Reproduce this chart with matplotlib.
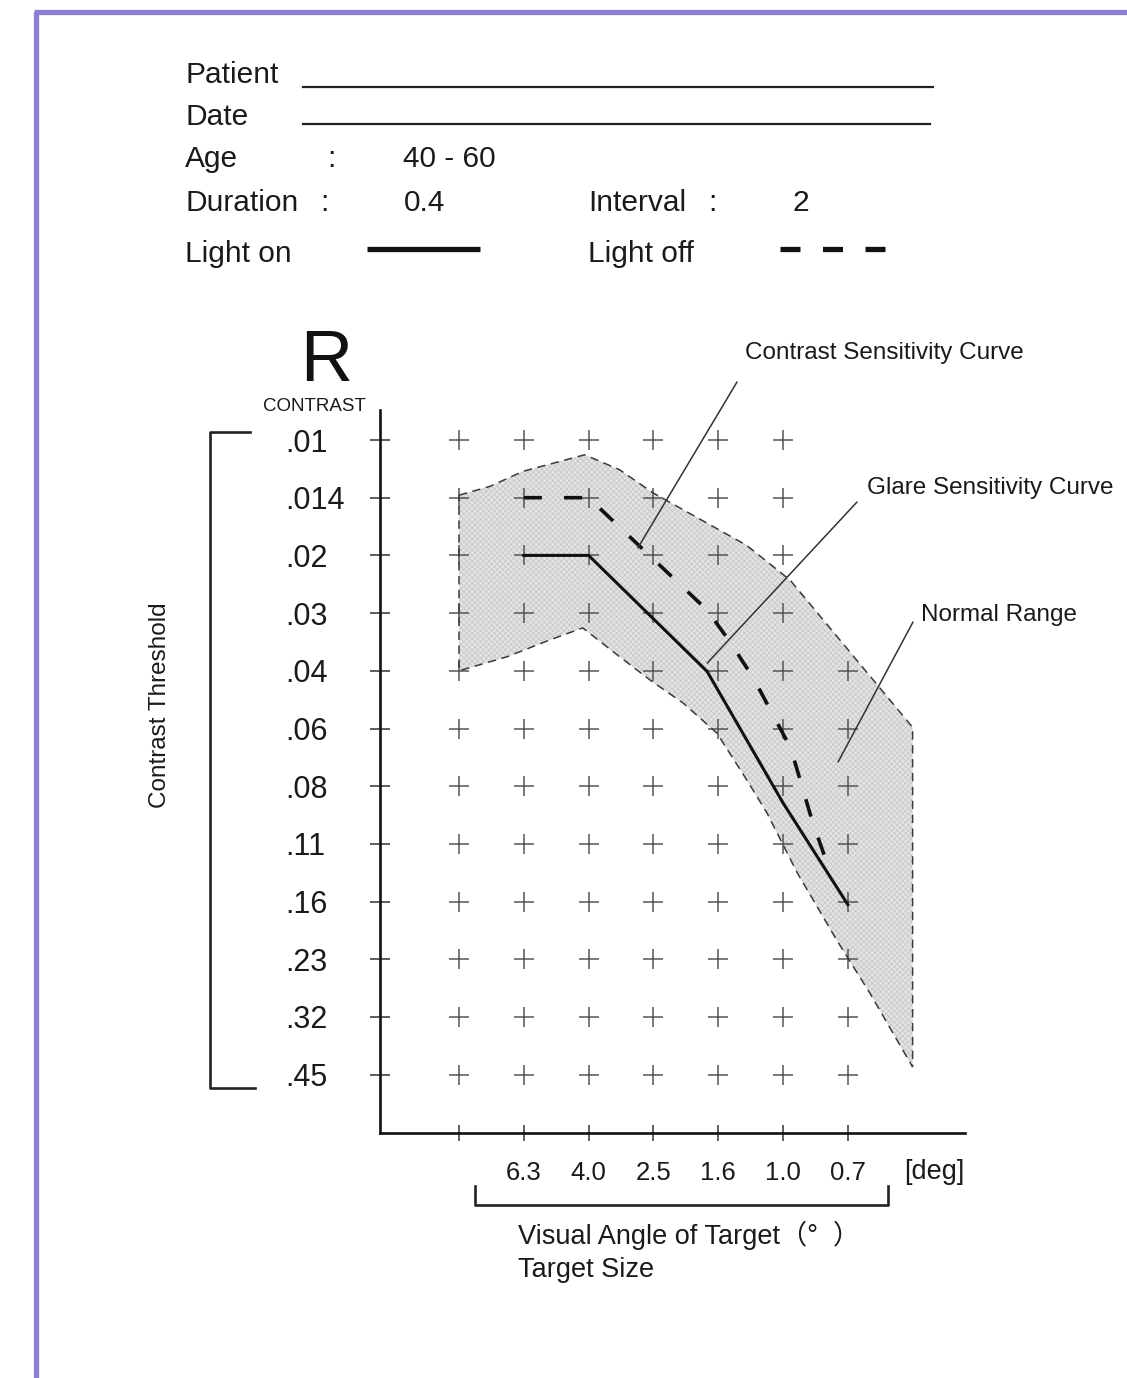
import numpy as np
import matplotlib
matplotlib.use('Agg')
import matplotlib.pyplot as plt
from matplotlib.patches import ConnectionPatch
from matplotlib.ticker import NullLocator, FixedLocator, FixedFormatter

plt.rcParams['font.family'] = ['Liberation Sans', 'Noto Sans CJK JP', 'DejaVu Sans']
plt.rcParams['lines.scale_dashes'] = False
plt.rcParams['hatch.linewidth'] = 0.5

W, H, DPI = 1127, 1378, 100

# ---------------- data ----------------
contrast_levels = [0.01, 0.014, 0.02, 0.03, 0.04, 0.06, 0.08, 0.11, 0.16, 0.23, 0.32, 0.45]
contrast_labels = ['.01', '.014', '.02', '.03', '.04', '.06', '.08', '.11', '.16', '.23', '.32', '.45']
size_positions = [0, 1, 2, 3, 4, 5, 6]
size_labels = ['', '6.3', '4.0', '2.5', '1.6', '1.0', '0.7']
grid_cols_per_row = [6, 6, 6, 6, 7, 7, 7, 7, 7, 7, 7, 7]

light_on_x = [1, 2, 3.83, 5.0, 6.0]
light_on_c = [0.02, 0.02, 0.0402, 0.0877, 0.163]
light_off_x = [1, 2, 3.83, 4.18, 4.54, 5.12, 5.46, 5.68]
light_off_c = [0.014, 0.014, 0.0294, 0.0346, 0.042, 0.0662, 0.098, 0.1245]

normal_upper_x = [0, 0.48, 0.99, 1.94, 2.48, 2.99, 4.44, 5.11, 7.0]
normal_upper_c = [0.0138, 0.0131, 0.012, 0.0109, 0.0119, 0.0136, 0.0188, 0.0238, 0.0595]
normal_lower_x = [0, 0.74, 1.40, 1.91, 2.48, 2.95, 3.46, 3.98, 4.44, 4.75, 5.22, 5.83, 6.34, 7.0]
normal_lower_c = [0.04, 0.0373, 0.0343, 0.0323, 0.0373, 0.0427, 0.0502, 0.0614, 0.0775,
                  0.0926, 0.1327, 0.204, 0.279, 0.43]

# label pointers (x position, contrast)
ptr_contrast_curve = (2.76, 0.0191)
ptr_glare_curve = (3.83, 0.0385)
ptr_normal_range = (5.85, 0.0709)

# ---------------- scale: equal spacing between contrast levels ----------------
idx = np.arange(len(contrast_levels), dtype=float)
logL = np.log10(contrast_levels)
idx_ext = np.concatenate([[-3.0], idx, [idx[-1] + 3]])
logL_ext = np.concatenate([[logL[0] - 3 * (logL[1] - logL[0])], logL,
                           [logL[-1] + 3 * (logL[-1] - logL[-2])]])


def fwd(c):
    c = np.clip(np.asarray(c, float), 1e-9, None)
    return np.interp(np.log10(c), logL_ext, idx_ext)


def inv(r):
    return 10 ** np.interp(np.asarray(r, float), idx_ext, logL_ext)


fig = plt.figure(figsize=(W / DPI, H / DPI), dpi=DPI)
fig.patch.set_facecolor('white')


def fx(px):
    return px / W


def fy(py):
    return 1 - py / H


ax = fig.add_axes([fx(380), fy(1133), fx(965) - fx(380), fy(410) - fy(1133)])
ax.set_yscale('function', functions=(fwd, inv))
col0, cstep = 459, 64.8
row0, rstep = 440, 57.7
ax.set_xlim((380 - col0) / cstep, (965 - col0) / cstep)
ax.set_ylim(inv((1133 - row0) / rstep), inv((410 - row0) / rstep))
ax.patch.set_alpha(0)
for s in ['top', 'right']:
    ax.spines[s].set_visible(False)
for s in ['left', 'bottom']:
    ax.spines[s].set_linewidth(1.9)
    ax.spines[s].set_color('#111111')

ax.yaxis.set_major_locator(FixedLocator(contrast_levels))
ax.yaxis.set_major_formatter(FixedFormatter(contrast_labels))
ax.yaxis.set_minor_locator(NullLocator())
ax.xaxis.set_major_locator(FixedLocator(size_positions))
ax.xaxis.set_major_formatter(FixedFormatter(size_labels))
ax.xaxis.set_minor_locator(NullLocator())
ax.tick_params(axis='y', direction='inout', length=14, width=1.1, color='#333333',
               pad=61.4, labelsize=22, labelcolor='#1a1a1a')
for lab in ax.get_yticklabels():
    lab.set_horizontalalignment('left')
ax.tick_params(axis='x', direction='inout', length=11, width=1.1, color='#333333',
               pad=15, labelsize=18.5, labelcolor='#1a1a1a')

# normal range
poly_x = normal_upper_x + normal_lower_x[::-1]
poly_c = normal_upper_c + normal_lower_c[::-1]
ax.fill(poly_x, poly_c, facecolor='#e3e3e3', edgecolor='#c6c6c6', hatch='xxxxxx',
        lw=0, zorder=1)
ax.fill(poly_x, poly_c, facecolor='none', edgecolor='#3a3a3a', lw=1.1,
        ls=(0, (6, 4)), zorder=3)

# grid of crosses
for lev, n in zip(contrast_levels, grid_cols_per_row):
    ax.plot(size_positions[:n], [lev] * n, ls='none', marker='+', ms=15, mew=1.1,
            color='#555555', zorder=2)

# curves
ax.plot(light_on_x, light_on_c, color='#111111', lw=2.2, zorder=4,
        solid_joinstyle='miter')
ax.plot(light_off_x, light_off_c, color='#111111', lw=2.6, ls=(0, (13, 16)),
        zorder=4, dash_capstyle='butt')

# ---------------- overlay (pixel coordinates) ----------------
ov = fig.add_axes([0, 0, 1, 1], zorder=5)
ov.set_xlim(0, W)
ov.set_ylim(H, 0)
ov.axis('off')
ov.patch.set_alpha(0)

TC = '#1a1a1a'
# purple border
ov.plot([36, 36], [12, H + 5], color='#8c7ed2', lw=3.8, solid_capstyle='butt')
ov.plot([34, W + 5], [12, 12], color='#8c7ed2', lw=3.8, solid_capstyle='butt')

HF = 21.5
ov.text(185, 83, 'Patient', fontsize=HF, color=TC, va='baseline')
ov.plot([303, 933], [87, 87], color='#222222', lw=1.6)
ov.text(185, 125, 'Date', fontsize=HF, color=TC, va='baseline')
ov.plot([303, 930], [124, 124], color='#222222', lw=1.6)
ov.text(185, 167, 'Age', fontsize=HF, color=TC, va='baseline')
ov.text(327, 167, ':', fontsize=HF, color=TC, va='baseline')
ov.text(403, 167, '40 - 60', fontsize=HF, color=TC, va='baseline')
ov.text(185, 211, 'Duration', fontsize=HF, color=TC, va='baseline')
ov.text(320, 211, ':', fontsize=HF, color=TC, va='baseline')
ov.text(404, 211, '0.4', fontsize=HF, color=TC, va='baseline')
ov.text(588, 211, 'Interval', fontsize=HF, color=TC, va='baseline')
ov.text(708, 211, ':', fontsize=HF, color=TC, va='baseline')
ov.text(792, 211, '2', fontsize=HF, color=TC, va='baseline')
ov.text(185, 262, 'Light on', fontsize=HF, color=TC, va='baseline')
ov.plot([367, 480], [249, 249], color='#111111', lw=3.8, solid_capstyle='butt')
ov.text(588, 262, 'Light off', fontsize=HF, color=TC, va='baseline')
ov.plot([780, 887], [249, 249], color='#111111', lw=3.8, ls=(0, (14.4, 16.2)),
        dash_capstyle='butt')

# R / CONTRAST
ov.text(300, 381, 'R', fontsize=52, color='#111111', va='baseline')
ov.text(263, 411, 'CONTRAST', fontsize=13.5, color=TC, va='baseline')

# left bracket + label
ov.plot([250, 210, 210, 255], [432, 432, 1088, 1088], color='#222222', lw=1.9)
ov.text(160, 705, 'Contrast Threshold', fontsize=17.5, color=TC, rotation=90,
        ha='center', va='center')

# bottom bracket + labels
ov.plot([475, 475, 888, 888], [1186, 1205, 1205, 1186], color='#222222', lw=1.9)
ov.text(904, 1172, '[deg]', fontsize=19.5, color=TC, va='center')
ov.text(518, 1235, 'Visual Angle of Target（°  ）', fontsize=19.5, color=TC, va='center')
ov.text(518, 1270, 'Target Size', fontsize=19.5, color=TC, va='center')

# annotations
AF = 17.5
ov.text(745, 353, 'Contrast Sensitivity Curve', fontsize=AF, color=TC, va='center')
ov.text(867, 488, 'Glare Sensitivity Curve', fontsize=AF, color=TC, va='center')
ov.text(921, 615, 'Normal Range', fontsize=AF, color=TC, va='center')
for ptr, top in [(ptr_contrast_curve, (737, 382)),
                 (ptr_glare_curve, (857, 502)),
                 (ptr_normal_range, (913, 622))]:
    con = ConnectionPatch(xyA=ptr, coordsA=ax.transData, xyB=top, coordsB=ov.transData,
                          color='#333333', lw=1.1, zorder=6)
    fig.add_artist(con)

fig.savefig('out.png', dpi=DPI, facecolor='white')
